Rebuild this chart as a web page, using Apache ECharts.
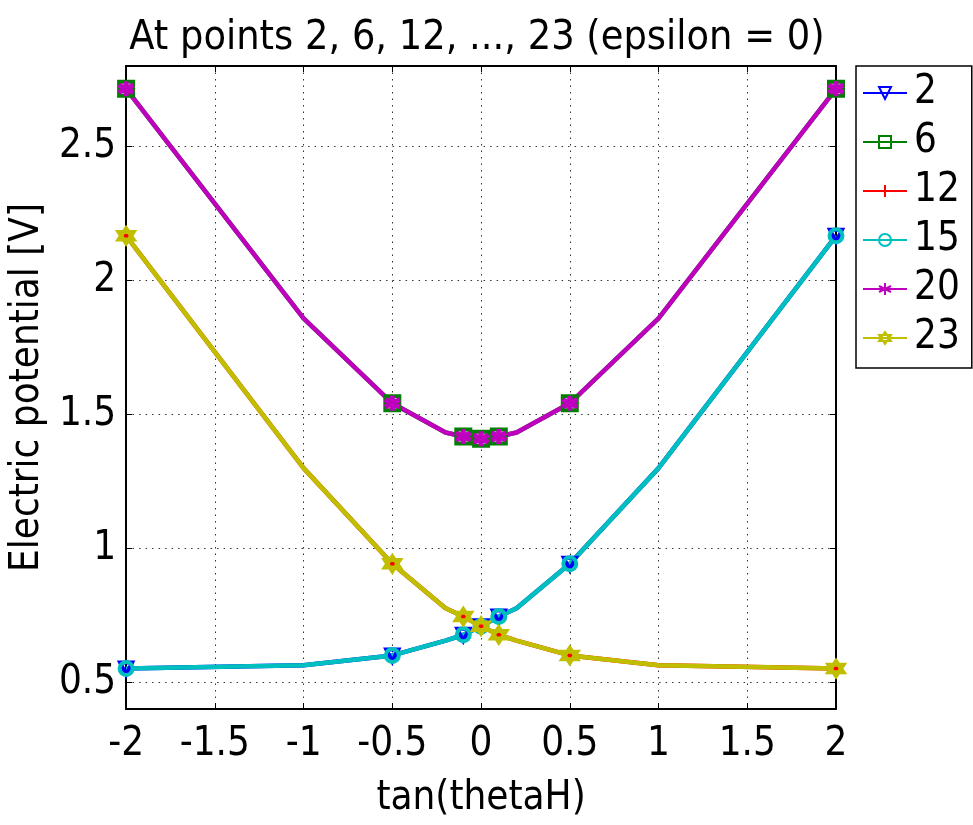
<!DOCTYPE html>
<html>
<head>
<meta charset="utf-8">
<script src="https://cdn.jsdelivr.net/npm/echarts@6/dist/echarts.min.js"></script>
<style>
html,body{margin:0;padding:0;background:#fff;}
#chart{width:973px;height:825px;}
</style>
</head>
<body>
<div id="chart"></div>
<script>
// ---- data ----
const xValues = [-2, -1, -0.5, -0.2, -0.1, 0, 0.1, 0.2, 0.5, 1, 2];
const markerX = [-2, -0.5, -0.1, 0, 0.1, 0.5, 2];
const upperCurve = [2.715, 1.858, 1.541, 1.432, 1.417, 1.409, 1.417, 1.432, 1.541, 1.858, 2.715];
const risingCurve = [0.551, 0.563, 0.600, 0.655, 0.677, 0.709, 0.745, 0.776, 0.942, 1.299, 2.166];
const fallingCurve = [2.166, 1.299, 0.942, 0.776, 0.745, 0.709, 0.677, 0.655, 0.600, 0.563, 0.551];
const seriesNames = ['2', '6', '12', '15', '20', '23'];
const seriesValues = {
  '2': risingCurve,
  '6': upperCurve,
  '12': fallingCurve,
  '15': risingCurve,
  '20': upperCurve,
  '23': fallingCurve
};
const yTicks = [0.5, 1, 1.5, 2, 2.5];
const xTicks = [-2, -1.5, -1, -0.5, 0, 0.5, 1, 1.5, 2];
const titleText = 'At points 2, 6, 12, ..., 23 (epsilon = 0)';
const xName = 'tan(thetaH)';
const yName = 'Electric potential [V]';

// ---- styles ----
const FONT = '"DejaVu Sans Condensed", "DejaVu Sans", sans-serif';
const FS = 40;
const colors = {'2':'#0000ff','6':'#008000','12':'#ff0000','15':'#00bfbf','20':'#bf00bf','23':'#bfbf00'};
const symbols = {
  '2': 'path://M0,0 L10,0 L5,9 Z',
  '6': 'path://M0,0 L10,0 L10,10 L0,10 Z',
  '12': 'path://M5,0 L5,10 M0,5 L10,5',
  '15': 'path://M10,5 A5,5 0 1 1 0,5 A5,5 0 1 1 10,5 Z',
  '20': 'path://M5,0 L5,10 M0.7,2.5 L9.3,7.5 M0.7,7.5 L9.3,2.5',
  '23': 'path://M5,0 L9.33,7.5 L0.67,7.5 Z M5,10 L0.67,2.5 L9.33,2.5 Z'
};
const symbolSizes = {'2':12,'6':14,'12':14,'15':13,'20':15,'23':15};
const markerWidths = {'2':4,'6':4,'12':4,'15':4,'20':5,'23':4};

const series = seriesNames.map(function(n){
  const vals = seriesValues[n];
  return {
    name: n,
    type: 'line',
    symbol: symbols[n],
    symbolSize: symbolSizes[n],
    showAllSymbol: true,
    animation: false,
    lineStyle: {color: colors[n], width: 4.5},
    itemStyle: {color: 'rgba(255,255,255,0)', borderColor: colors[n], borderWidth: markerWidths[n]},
    emphasis: {disabled: true},
    data: xValues.map(function(x, i){
      const item = {value: [x, vals[i]]};
      if (markerX.indexOf(x) < 0) item.symbol = 'none';
      return item;
    })
  };
});

const chart = echarts.init(document.getElementById('chart'));
chart.setOption({
  backgroundColor: '#fff',
  animation: false,
  textStyle: {fontFamily: FONT},
  title: {
    text: titleText,
    left: 477, top: 18, textAlign: 'center', padding: 0,
    textStyle: {fontFamily: FONT, fontSize: 41, fontWeight: 'normal', color: '#000'}
  },
  grid: {left: 117, right: 137, top: 66, bottom: 116, containLabel: false},
  legend: {
    orient: 'vertical',
    left: 856, top: 66,
    padding: [7, 12, 10, 6],
    itemGap: 9,
    itemWidth: 44,
    itemHeight: 15,
    borderColor: '#000',
    borderWidth: 1.5,
    backgroundColor: '#fff',
    data: seriesNames,
    textStyle: {fontFamily: FONT, fontSize: FS, color: '#000', padding: [0,0,0,2]},
    lineStyle: {width: 2},
    itemStyle: {borderWidth: 2}
  },
  xAxis: [{
    type: 'value', min: -2, max: 2, interval: 0.5,
    name: xName, nameLocation: 'middle', nameGap: 70,
    nameTextStyle: {fontFamily: FONT, fontSize: FS, color: '#000'},
    axisLine: {show: true, onZero: false, lineStyle: {color: '#000', width: 2}},
    axisTick: {show: true, inside: true, length: 6, lineStyle: {color: '#000', width: 1}},
    axisLabel: {fontFamily: FONT, fontSize: FS, color: '#000', margin: 16},
    splitLine: {show: true, lineStyle: {color: '#333', width: 1, type: [1.5, 5]}}
  }, {
    type: 'value', min: -2, max: 2, interval: 0.5, position: 'top',
    axisLine: {show: true, onZero: false, lineStyle: {color: '#000', width: 2}},
    axisTick: {show: true, inside: true, length: 6, lineStyle: {color: '#000', width: 1}},
    axisLabel: {show: false}, splitLine: {show: false}
  }],
  yAxis: [{
    type: 'value', min: 0.4, max: 2.8,
    name: yName, nameLocation: 'middle', nameGap: 78,
    nameTextStyle: {fontFamily: FONT, fontSize: FS, color: '#000'},
    axisLine: {show: true, onZero: false, lineStyle: {color: '#000', width: 2}},
    axisTick: {show: true, inside: true, length: 6, customValues: yTicks, lineStyle: {color: '#000', width: 1}},
    axisLabel: {fontFamily: FONT, fontSize: FS, color: '#000', margin: 10, customValues: yTicks},
    splitLine: {show: true, lineStyle: {color: '#333', width: 1, type: [1.5, 5]}}
  }, {
    type: 'value', min: 0.4, max: 2.8, position: 'right',
    axisLine: {show: true, onZero: false, lineStyle: {color: '#000', width: 2}},
    axisTick: {show: true, inside: true, length: 6, customValues: yTicks, lineStyle: {color: '#000', width: 1}},
    axisLabel: {show: false}, splitLine: {show: false}
  }],
  series: series
});
</script>
</body>
</html>
